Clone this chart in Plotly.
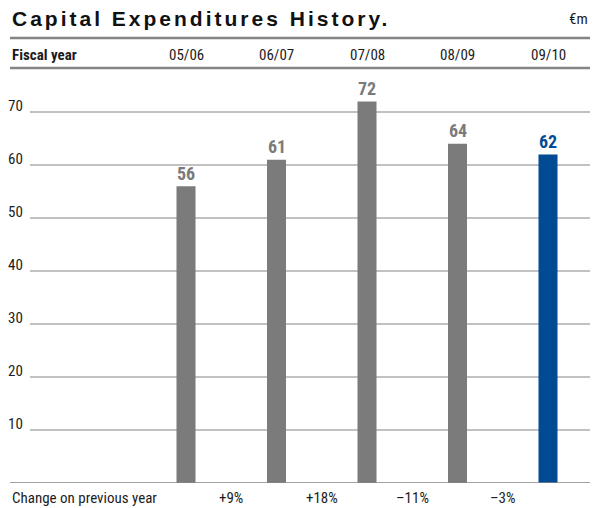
import plotly.graph_objects as go

# Capital expenditures by fiscal year (EUR million)
fiscal_years = ["05/06", "06/07", "07/08", "08/09", "09/10"]
capex = [56, 61, 72, 64, 62]
change_labels = ["+9%", "+18%", "\u201311%", "\u20133%"]
y_ticks = [10, 20, 30, 40, 50, 60, 70]

GREY = "#7b7b7b"
BLUE = "#004b93"
TEXT = "#1c1c1c"
RULE = "#848484"
FONT = "Roboto Condensed, Arial Narrow, Roboto, sans-serif"
TITLE_FONT = "Liberation Sans, Arial, Helvetica, sans-serif"

W, H = 598, 508
ML, MR, MT, MB = 10, 8, 70, 25
PW, PH = W - ML - MR, H - MT - MB


def px_x(p):
    return (p - ML) / PW


def px_y(p):
    return 1 - (p - MT) / PH


x_pos = list(range(len(fiscal_years)))
bar_colors = [GREY] * (len(capex) - 1) + [BLUE]

fig = go.Figure()
fig.add_trace(go.Bar(
    x=x_pos, y=capex, width=0.21,
    marker=dict(color=bar_colors, line=dict(width=0)),
    hoverinfo="skip",
))

shapes = []
annotations = []

# horizontal grid lines with labels sitting on them
for v in y_ticks:
    shapes.append(dict(type="line", xref="paper", yref="y", x0=px_x(30), x1=1,
                       y0=v, y1=v, line=dict(color=RULE, width=1), layer="below"))
    annotations.append(dict(xref="paper", yref="y", x=px_x(25), y=v, text=str(v),
                            showarrow=False, xanchor="right", yanchor="middle", yshift=6,
                            font=dict(family=FONT, size=15, color=TEXT)))

# baseline
shapes.append(dict(type="line", xref="paper", yref="y", x0=0, x1=1, y0=0, y1=0,
                   line=dict(color=RULE, width=1.5)))

# header rules
for p in (38, 68):
    shapes.append(dict(type="line", xref="paper", yref="paper", x0=0, x1=1,
                       y0=px_y(p), y1=px_y(p), line=dict(color=RULE, width=2.5)))

# value labels above bars
for x, v, c in zip(x_pos, capex, bar_colors):
    annotations.append(dict(xref="x", yref="y", x=x, y=v, text=f"<b>{v}</b>",
                            showarrow=False, xanchor="center", yanchor="middle", yshift=13,
                            font=dict(family=FONT, size=18, color=c)))

# fiscal year header row
annotations.append(dict(xref="paper", yref="paper", x=0, y=px_y(55), text="<b>Fiscal year</b>",
                        showarrow=False, xanchor="left", yanchor="middle",
                        font=dict(family=FONT, size=15, color=TEXT)))
for x, fy in zip(x_pos, fiscal_years):
    annotations.append(dict(xref="x", yref="paper", x=x, y=px_y(55), text=fy,
                            showarrow=False, xanchor="center", yanchor="middle",
                            font=dict(family=FONT, size=15, color=TEXT)))

# change row
annotations.append(dict(xref="paper", yref="paper", x=0, y=px_y(498),
                        text="Change on previous year", showarrow=False,
                        xanchor="left", yanchor="middle",
                        font=dict(family=FONT, size=15, color=TEXT)))
for i, lbl in enumerate(change_labels):
    annotations.append(dict(xref="x", yref="paper", x=i + 0.5, y=px_y(498), text=lbl,
                            showarrow=False, xanchor="center", yanchor="middle",
                            font=dict(family=FONT, size=15, color=TEXT)))

# title (tracked-out bold) and unit
annotations.append(dict(xref="paper", yref="paper", x=0, y=px_y(18),
                        text='<span style="letter-spacing:3px">Capital Expenditures History.</span>',
                        showarrow=False, xanchor="left", yanchor="middle",
                        font=dict(family=TITLE_FONT, size=21, color="#111111", weight="bold")))
annotations.append(dict(xref="paper", yref="paper", x=1, y=px_y(19), text="\u20acm",
                        showarrow=False, xanchor="right", yanchor="middle",
                        font=dict(family=FONT, size=15, color=TEXT)))

# x range so that bar centres land 90.5 px apart, first at 186 px
step = 90.5
x0 = (ML - 186) / step
x1 = x0 + PW / step

fig.update_layout(
    width=W, height=H,
    margin=dict(l=ML, r=MR, t=MT, b=MB, pad=0),
    paper_bgcolor="white", plot_bgcolor="white",
    showlegend=False,
    xaxis=dict(range=[x0, x1], visible=False, fixedrange=True),
    yaxis=dict(range=[0, PH / 5.3], visible=False, fixedrange=True),
    shapes=shapes, annotations=annotations,
)

fig.write_html("out.html", config={"displayModeBar": False})
